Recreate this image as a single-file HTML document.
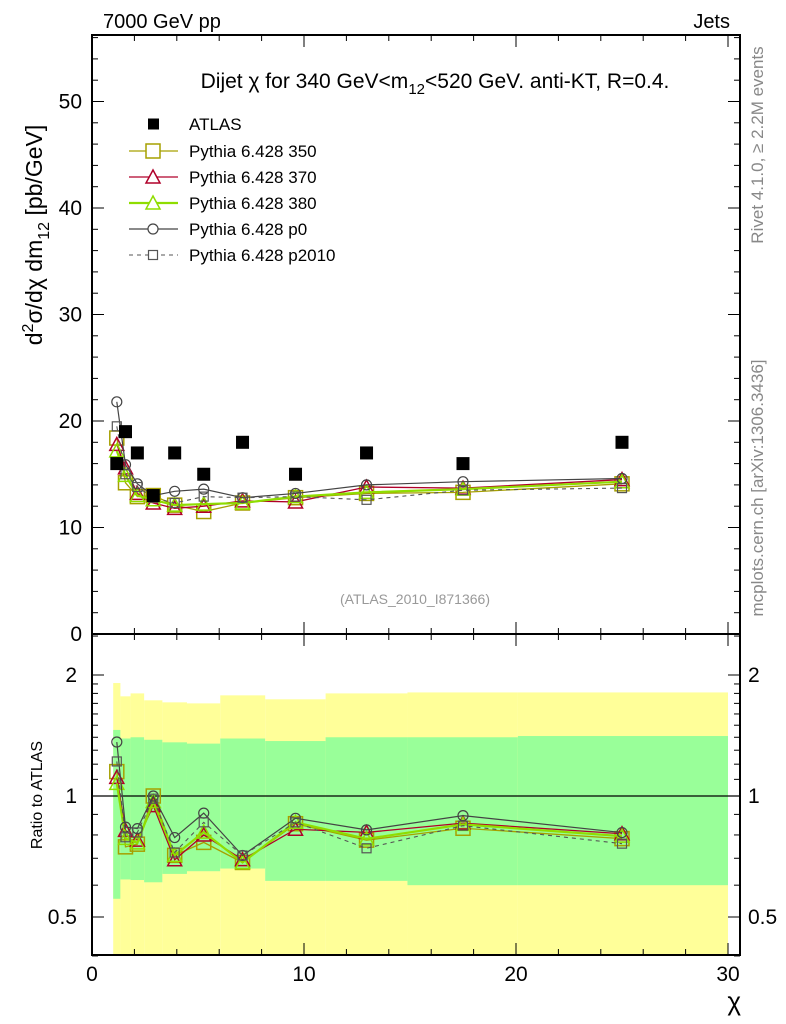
<!DOCTYPE html>
<html><head><meta charset="utf-8">
<style>
body{margin:0;background:#fff;}
svg{display:block;font-family:"Liberation Sans",sans-serif;}
</style></head>
<body>
<svg id="c" width="786" height="1024" xmlns="http://www.w3.org/2000/svg"></svg>
<script>
const chiEdges=[1,1.34,1.82,2.46,3.32,4.48,6.05,8.17,11.02,14.88,20.09,30];
const chiCenters=[1.17,1.58,2.14,2.89,3.9,5.27,7.1,9.6,12.95,17.5,25];
const atlas=[16,19,17,13,17,15,18,15,17,16,18];
const yellowTop=[1.91,1.77,1.80,1.73,1.71,1.70,1.78,1.74,1.80,1.81,1.81];
const greenTop=[1.46,1.39,1.40,1.38,1.36,1.35,1.39,1.37,1.40,1.40,1.41];
const greenBot=[0.555,0.62,0.618,0.61,0.64,0.65,0.66,0.615,0.615,0.60,0.60];
const yellowBot=[0.3,0.3,0.3,0.3,0.3,0.3,0.3,0.3,0.3,0.3,0.3];
const mc350=[18.4,14.2,12.9,13.0,12.1,11.5,12.3,12.8,13.2,13.3,14.1];
const mc370=[17.8,15.6,13.2,12.3,11.8,12.0,12.5,12.4,13.8,13.7,14.5];
const mc380=[17.2,14.9,13.0,12.6,12.1,12.2,12.3,12.9,13.3,13.6,14.3];
const mcP0=[21.8,15.9,14.1,13.0,13.4,13.6,12.8,13.2,14.0,14.3,14.6];
const mcP2010=[19.5,15.0,13.8,12.8,12.3,12.9,12.8,12.9,12.6,13.5,13.7];
const xTicks=[0,10,20,30];
const yTicks=[10,20,30,40,50];
const rTicks=[0.5,1,2];

const NS="http://www.w3.org/2000/svg";
const svg=document.getElementById('c');
function mk(tag,attrs,parent){const e=document.createElementNS(NS,tag);for(const k in attrs)e.setAttribute(k,attrs[k]);(parent||svg).appendChild(e);return e;}
const L=92,R=740,T=35,M=634,B=955;
const xs=v=>L+v*21.2;
const ys=v=>M-v*10.65;
const rs=v=>796-121*Math.log2(v);

const defs=mk('defs',{});
const cp=mk('clipPath',{id:'rc'},defs);mk('rect',{x:L,y:M,width:R-L,height:B-M},cp);
const cp2=mk('clipPath',{id:'tc'},defs);mk('rect',{x:L,y:T,width:R-L,height:M-T},cp2);

const bandG=mk('g',{'clip-path':'url(#rc)'});


for(let i=0;i<atlas.length;i++){
  const x0=xs(chiEdges[i]),x1=xs(chiEdges[i+1]);
  const y1=mk('rect',{x:x0,y:rs(yellowTop[i]),width:x1-x0,height:rs(yellowBot[i])-rs(yellowTop[i]),fill:'#ffff99'},bandG);
  
  
  const g1=mk('rect',{x:x0,y:rs(greenTop[i]),width:x1-x0,height:rs(greenBot[i])-rs(greenTop[i]),fill:'#99ff99'},bandG);
  
  
}
mk('line',{x1:L,x2:R,y1:rs(1),y2:rs(1),stroke:'#000','stroke-width':1.3});

const f1=mk('rect',{x:L,y:T,width:R-L,height:M-T,fill:'none',stroke:'#000','stroke-width':2});

const f2=mk('rect',{x:L,y:M,width:R-L,height:B-M,fill:'none',stroke:'#000','stroke-width':2});


for(let v=0;v<=30;v+=2){
  const maj=v%10===0;const len=maj?12:6;
  for(const [top,bot] of [[T,M],[M,B]]){
    mk('line',{x1:xs(v),x2:xs(v),y1:bot,y2:bot-len,stroke:'#000','stroke-width':1});
    mk('line',{x1:xs(v),x2:xs(v),y1:top,y2:top+len,stroke:'#000','stroke-width':1});
  }
}
xTicks.forEach(v=>{const t=mk('text',{x:xs(v),y:981,'font-size':21,'text-anchor':'middle'});t.textContent=v;
});
const xt=mk('text',{x:741,y:1010,'font-size':26,'text-anchor':'end'});xt.textContent='χ';


for(let v=0;v<=56;v+=2){const maj=v%10===0;const len=maj?12:6;
  mk('line',{x1:L,x2:L+len,y1:ys(v),y2:ys(v),stroke:'#000'});
  mk('line',{x1:R,x2:R-len,y1:ys(v),y2:ys(v),stroke:'#000'});}
yTicks.concat([0]).forEach(v=>{const t=mk('text',{x:82,y:ys(v)+7,'font-size':21,'text-anchor':'end'});t.textContent=v;
});
const rmin=[0.4,0.5,0.6,0.7,0.8,0.9,1,1.1,1.2,1.3,1.4,1.5,1.6,1.7,1.8,1.9,2,2.5];
rmin.forEach(v=>{const maj=rTicks.includes(v);const len=maj?12:6;
  mk('line',{x1:L,x2:L+len,y1:rs(v),y2:rs(v),stroke:'#000'});
  mk('line',{x1:R,x2:R-len,y1:rs(v),y2:rs(v),stroke:'#000'});});
rTicks.forEach(v=>{const t=mk('text',{x:77,y:rs(v)+7,'font-size':21,'text-anchor':'end'});t.textContent=v;

const t2=mk('text',{x:748,y:rs(v)+7,'font-size':21});t2.textContent=v;
});

const series=[
 {d:mc350,c:'#a6a000',m:'sq',w:1.3,dash:'',n:'pythia-350'},
 {d:mc370,c:'#b0002a',m:'tri',w:1.3,dash:'',n:'pythia-370'},
 {d:mc380,c:'#8fdd00',m:'tri',w:2.2,dash:'',n:'pythia-380'},
 {d:mcP0,c:'#444',m:'circ',w:1.2,dash:'',n:'pythia-p0'},
 {d:mcP2010,c:'#555',m:'sqs',w:1.1,dash:'4,4',n:'pythia-p2010'}];
function marker(g,m,x,y,c){
  if(m==='sq')return mk('rect',{x:x-7,y:y-7,width:14,height:14,fill:'none',stroke:c,'stroke-width':1.5},g);
  if(m==='sqs')return mk('rect',{x:x-4.5,y:y-4.5,width:9,height:9,fill:'none',stroke:c,'stroke-width':1.2},g);
  if(m==='tri')return mk('polygon',{points:`${x},${y-7} ${x-7},${y+6} ${x+7},${y+6}`,fill:'none',stroke:c,'stroke-width':1.5},g);
  return mk('circle',{cx:x,cy:y,r:5,fill:'none',stroke:c,'stroke-width':1.2},g);
}
series.forEach(s=>{
  const g=mk('g',{'clip-path':'url(#tc)'});
  
  const pts=chiCenters.map((c,i)=>xs(c)+','+ys(s.d[i])).join(' ');
  mk('polyline',{points:pts,fill:'none',stroke:s.c,'stroke-width':s.w,'stroke-dasharray':s.dash},g);
  chiCenters.forEach((c,i)=>{const e=marker(g,s.m,xs(c),ys(s.d[i]),s.c);
    });
  const g2=mk('g',{'clip-path':'url(#rc)'});
  
  const pts2=chiCenters.map((c,i)=>xs(c)+','+rs(s.d[i]/atlas[i])).join(' ');
  mk('polyline',{points:pts2,fill:'none',stroke:s.c,'stroke-width':s.w,'stroke-dasharray':s.dash},g2);
  chiCenters.forEach((c,i)=>{const e=marker(g2,s.m,xs(c),rs(s.d[i]/atlas[i]),s.c);
    });
});
chiCenters.forEach((c,i)=>{const e=mk('rect',{x:xs(c)-6.5,y:ys(atlas[i])-6.5,width:13,height:13,fill:'#000'});
});

function txt(s,a,name){const t=mk('text',a);t.textContent=s;return t;}
txt('7000 GeV pp',{x:103,y:28,'font-size':20},'beam-label');
txt('Jets',{x:730,y:28,'font-size':20,'text-anchor':'end'},'process-label');
const ti=mk('text',{x:435,y:88,'font-size':21,'text-anchor':'middle','xml:space':'preserve'});

ti.innerHTML='Dijet χ for 340 GeV&lt;m<tspan font-size="15" dy="6">12</tspan><tspan dy="-6">&lt;520 GeV.  anti-KT, R=0.4.</tspan>';
const yt=mk('text',{transform:'translate(42,235) rotate(-90)','font-size':23,'text-anchor':'middle'});

yt.innerHTML='d<tspan font-size="16" dy="-9">2</tspan><tspan dy="9">σ/dχ dm</tspan><tspan font-size="16" dy="7">12</tspan><tspan dy="-7"> [pb/GeV]</tspan>';
txt('Ratio to ATLAS',{transform:'translate(42,795) rotate(-90)','font-size':16,'text-anchor':'middle'},'ratio-axis-title');
txt('Rivet 4.1.0, ≥ 2.2M events',{transform:'translate(763,145) rotate(-90)','font-size':17,'fill':'#888','text-anchor':'middle'},'rivet-label');
txt('mcplots.cern.ch [arXiv:1306.3436]',{transform:'translate(763,488) rotate(-90)','font-size':17,'fill':'#888','text-anchor':'middle'},'mcplots-label');
txt('(ATLAS_2010_I871366)',{x:415,y:604,'font-size':14,'fill':'#999','text-anchor':'middle'},'analysis-id');

const leg=mk('g',{});
const ly=[124,151,177,203,229,255];
const lr=mk('rect',{x:148,y:ly[0]-5.5,width:11,height:11,fill:'#000'},leg);

leg.appendChild(txt('ATLAS',{x:189,y:ly[0]+6,'font-size':17},'legend-entry-atlas'));
const labs=['Pythia 6.428 350','Pythia 6.428 370','Pythia 6.428 380','Pythia 6.428 p0','Pythia 6.428 p2010'];
series.forEach((s,i)=>{const y=ly[i+1];
  mk('line',{x1:129,x2:178,y1:y,y2:y,stroke:s.c,'stroke-width':s.w,'stroke-dasharray':s.dash},leg);
  const e=marker(leg,s.m,153,y,s.c);e.setAttribute('fill','#fff');
  
  leg.appendChild(txt(labs[i],{x:189,y:y+6,'font-size':17},'legend-entry'));
});
</script>
</body></html>
